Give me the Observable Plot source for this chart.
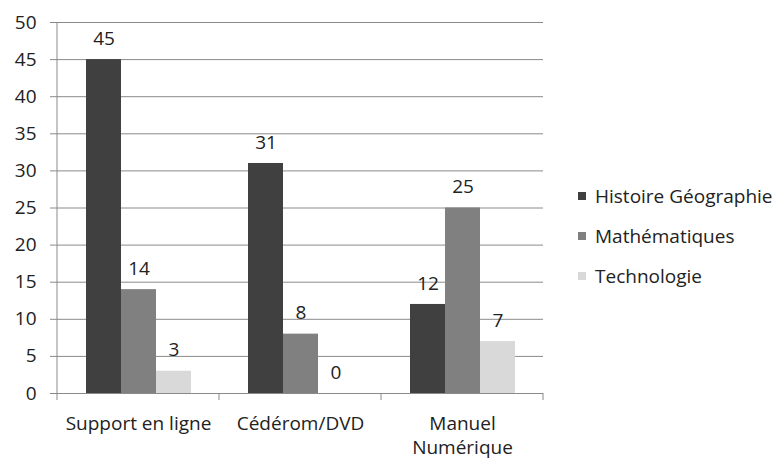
<!DOCTYPE html>
<html><head><meta charset="utf-8">
<script src="https://cdn.jsdelivr.net/npm/d3@7"></script>
<script src="https://cdn.jsdelivr.net/npm/@observablehq/plot@0.6"></script>
<style>
body{margin:0;background:#fff;}
#wrap{position:relative;width:777px;height:459px;font-family:"Open Sans",sans-serif;}
#legend{position:absolute;left:578px;top:176px;font-size:19px;color:#222;}
#legend div{height:40px;line-height:26px;display:flex;align-items:center;}
#legend span.sw{display:inline-block;width:8px;height:8px;margin-right:9px;}
</style></head>
<body><div id="wrap"><div id="legend"></div></div>
<script>
const categories = ["Support en ligne", "Cédérom/DVD", "Manuel\nNumérique"];
const series = ["Histoire Géographie", "Mathématiques", "Technologie"];
const histoire = [45, 31, 12];
const maths = [14, 8, 25];
const techno = [3, 0, 7];
const colors = ["#404040", "#808080", "#d9d9d9"];
const yTicks = [0,5,10,15,20,25,30,35,40,45,50];

const values = [histoire, maths, techno];
const data = [];
categories.forEach((c, i) => series.forEach((s, j) => data.push({cat: c, serie: s, value: values[j][i]})));

const W = 777, H = 459, mL = 57, mR = 234, mT = 22, mB = 66;
const font = "'Open Sans', sans-serif";
const plot = Plot.plot({
  width: W, height: H,
  marginLeft: mL, marginRight: mR, marginTop: mT, marginBottom: mB,
  style: {fontFamily: font, fontSize: "19px", color: "#222", background: "#fff", overflow: "visible"},
  fx: {domain: categories, padding: 0, label: null, axis: null},
  x: {domain: series, paddingInner: 0, paddingOuter: 0.77, axis: null},
  y: {domain: [0, 50], ticks: yTicks, label: null, axis: null},
  color: {domain: series, range: colors},
  marks: [
    Plot.gridY(yTicks, {stroke: "#8a8a8a", strokeOpacity: 1}),
    Plot.axisY(yTicks, {anchor: "left", tickSize: 7, tickPadding: 14, stroke: "#8a8a8a", fontSize: 19, fill: "#222", label: null}),
    Plot.barY(data, {fx: "cat", x: "serie", y: "value", fill: "serie", inset: 0}),
    Plot.ruleY([0], {stroke: "#8a8a8a"}),
    Plot.text(data, {fx: "cat", x: "serie", y: "value", text: d => String(d.value), dy: -21, fontSize: 19, fill: "#222"}),
    Plot.axisFx({anchor: "bottom", tickSize: 0, tickPadding: 19, fontSize: 19, fill: "#222", lineHeight: 1.27, label: null})
  ]
});
document.getElementById("wrap").appendChild(plot);

// y axis line and category boundary ticks, from the fx scale
const svg = d3.select(plot.tagName === "svg" ? plot : plot.querySelector("svg"));
const fx = plot.scale("fx");
const r0 = fx.range[0], r1 = fx.range[1];
const step = (r1 - r0) / categories.length;
const ys = plot.scale("y");
const y0 = ys.range[0], y1 = ys.range[1];
svg.append("line").attr("x1", r0).attr("x2", r0).attr("y1", y1).attr("y2", y0).attr("stroke", "#8a8a8a");
for (let i = 0; i <= categories.length; i++) {
  const x = r0 + i * step;
  svg.append("line").attr("x1", x).attr("x2", x).attr("y1", y0).attr("y2", y0 + 7).attr("stroke", "#8a8a8a");
}

const lg = document.getElementById("legend");
series.forEach((s, i) => {
  const d = document.createElement("div");
  d.innerHTML = `<span class="sw" style="background:${colors[i]}"></span>${s}`;
  lg.appendChild(d);
});
</script>
</body></html>
